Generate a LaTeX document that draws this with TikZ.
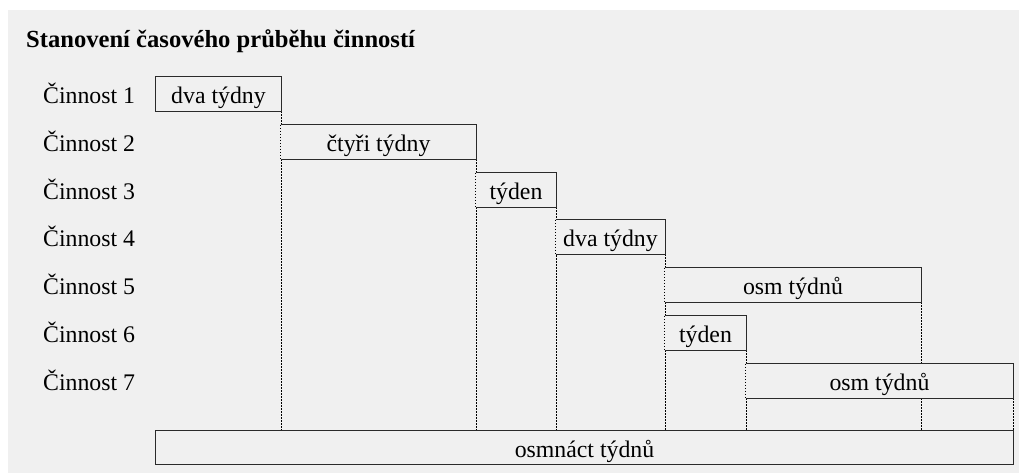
\documentclass[tikz,border=0pt]{standalone}
\usepackage{fontspec}
\setmainfont{Liberation Serif}
\usetikzlibrary{backgrounds}
\definecolor{panel}{HTML}{F0F0F0}
\definecolor{edge}{HTML}{2A2A2A}
\begin{document}
\begin{tikzpicture}[x=1bp,y=-1bp,
  every node/.style={font=\fontsize{23.8bp}{26bp}\selectfont, inner sep=0pt},
  bar/.style={rectangle, fill=panel, minimum height=34bp, text height=27bp, text depth=7bp, anchor=center},
  rowlabel/.style={anchor=base west},
  edgeline/.style={draw=edge, line width=1.2bp},
  guide/.style={draw=black, line width=1bp, dash pattern=on 1.4bp off 1.6bp}]
  \useasboundingbox (0,0) rectangle (1019,473);

  % title
  \node[anchor=base west, font=\fontsize{24.6bp}{27bp}\selectfont\bfseries] (title) at (26,48) {Stanovení časového průběhu činností};

  % row labels
  \node[rowlabel] (r1) at (43,104) {Činnost 1};
  \node[rowlabel] (r2) at (43,152) {Činnost 2};
  \node[rowlabel] (r3) at (43,200) {Činnost 3};
  \node[rowlabel] (r4) at (43,247) {Činnost 4};
  \node[rowlabel] (r5) at (43,295) {Činnost 5};
  \node[rowlabel] (r6) at (43,343) {Činnost 6};
  \node[rowlabel] (r7) at (43,391) {Činnost 7};

  % activity bars (filled, so they hide the guides they cross)
  \node[bar, minimum width=125bp] (b1) at (218.5,94)   {dva týdny};
  \node[bar, minimum width=195bp] (b2) at (378.5,142)  {čtyři týdny};
  \node[bar, minimum width=80bp]  (b3) at (516,190)    {týden};
  \node[bar, minimum width=109bp] (b4) at (610.5,237)  {dva týdny};
  \node[bar, minimum width=256bp] (b5) at (793,285)    {osm týdnů};
  \node[bar, minimum width=81bp]  (b6) at (705.5,333)  {týden};
  \node[bar, minimum width=267bp] (b7) at (879.5,381)  {osm týdnů};
  \node[bar, minimum width=857bp] (tot) at (584.5,447.5) {osmnáct týdnů};

  \begin{pgfonlayer}{background}
    % page and panel
    \fill[white] (0,0) rectangle (1019,473);
    \fill[panel] (8,10) rectangle (1019,473);
    % dotted guides from each bar end down to the total bar
    \foreach \b in {b1,b2,b3,b4,b5,b6,b7}
      \draw[guide] (\b.south east) -- (\b.south east |- tot.north);
  \end{pgfonlayer}

  % closed bars
  \draw[edgeline] (b1.north west) rectangle (b1.south east);
  \draw[edgeline] (tot.north west) rectangle (tot.south east);
  % bars open on the left: a dotted guide forms their left side
  \foreach \b in {b2,b3,b4,b5,b6,b7}{
    \draw[guide] (\b.north west) -- (\b.south west);
    \draw[edgeline] (\b.north west) -- (\b.north east) -- (\b.south east) -- (\b.south west);
  }
\end{tikzpicture}
\end{document}
